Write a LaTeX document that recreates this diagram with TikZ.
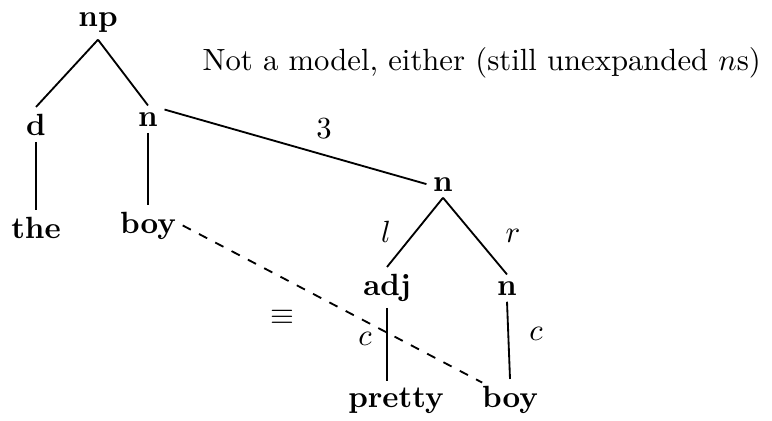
\documentclass[tikz,border=0pt]{standalone}
\begin{document}
\begin{tikzpicture}[
    x=0.326pt,
    y=-0.326pt,
    tn/.style={font=\bfseries, anchor=base, inner sep=2pt},
    lab/.style={anchor=base, inner sep=0pt},
    edge/.style={semithick}
  ]
    \useasboundingbox (0,0) rectangle (772,420);
    \node[tn] (np) at (98,27) {np};
    \node[tn] (d) at (36,135) {d};
    \node[tn] (n1) at (148,126) {n};
    \node[tn] (the) at (36,238) {the};
    \node[tn] (boy1) at (148,233) {boy};
    \node[tn] (n2) at (443,191) {n};
    \node[tn] (adj) at (387,295) {adj};
    \node[tn] (n3) at (507,295) {n};
    \node[tn] (pretty) at (396,407) {pretty};
    \node[tn] (boy2) at (510,407) {boy};
    \node[lab, anchor=base west] (title) at (202,70) {Not a model, either (still unexpanded $n$s)};
    \node[lab] (three) at (324,138) {3};
    \node[lab] (l) at (386,242) {$l$};
    \node[lab] (r) at (513,242) {$r$};
    \node[lab] (c1) at (365,345) {$c$};
    \node[lab] (c2) at (536,340) {$c$};
    \node (equiv) at (282,317) {$\equiv$};
    \draw[edge] (np.south) -- (d.north);
    \draw[edge] (np.south) -- (n1.north);
    \draw[edge] (d.south) -- (the.north);
    \draw[edge] (n1.south) -- (boy1.north);
    \draw[edge] (n1.30) -- (n2.west);
    \draw[edge] (n2.south) -- (adj.north);
    \draw[edge] (n2.south) -- (n3.north);
    \draw[edge] (adj.south) -- (adj.south |- pretty.north);
    \draw[edge] (n3.south) -- (boy2.north);
    \draw[edge, dashed, shorten >=-2.5pt] (boy1.east) -- (boy2.north west);
  \end{tikzpicture}
\end{document}
